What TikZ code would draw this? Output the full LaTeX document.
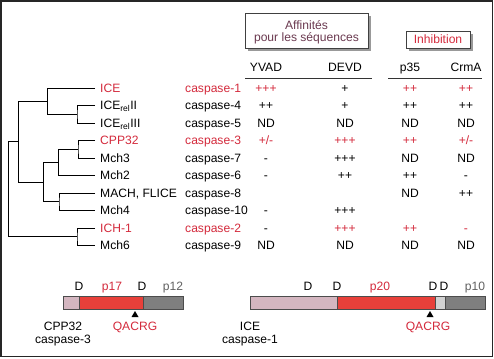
\documentclass[tikz,border=0pt]{standalone}
\usepackage{fontspec}
\setmainfont{Liberation Sans}
\definecolor{myred}{HTML}{D42A3C}
\definecolor{mypurple}{HTML}{6B3A50}
\definecolor{barpink}{HTML}{D4B6C0}
\definecolor{barred}{HTML}{E8403A}
\definecolor{bargray}{HTML}{7F7F7F}
\definecolor{barlight}{HTML}{D2D2D2}
\begin{document}
\begin{tikzpicture}[x=1pt,y=-1pt,
  txt/.style={inner sep=0pt, text height=8.7pt, text depth=0pt, font=\fontsize{12.1}{14}\selectfont},
  lft/.style={txt, anchor=west},
  rd/.style={text=myred},
  tree/.style={line width=0.9pt, black},
  hbox/.style={draw=black!75, line width=0.8pt, fill=white},
  shadow/.style={fill=black!40, draw=none},
  bar/.style={draw=black!70, line width=0.6pt},
  tri/.style={fill=black, draw=none}]
\useasboundingbox (0,0) rectangle (494,358);
\fill[white] (0,0) rectangle (494,358);
\draw[line width=1.6pt, black!85] (1,1) rectangle (492.5,356.5);

% header boxes
\fill[shadow] (248,16) rectangle (371,51);
\node[hbox, minimum width=123pt, minimum height=35pt, anchor=north west, inner sep=0pt] (aff) at (245,13) {};
\node[txt, text=mypurple] (afft1) at (306.5,25) {Affinités};
\node[txt, text=mypurple] (afft2) at (306.5,37.5) {pour les séquences};
\fill[shadow] (409,34) rectangle (473,51);
\node[hbox, minimum width=64pt, minimum height=17pt, anchor=north west, inner sep=0pt] (inh) at (406,31) {};
\node[txt, text=myred] (inht) at (438,39.5) {Inhibition};

% column headers
\node[txt] (hY) at (266,67) {YVAD};
\node[txt] (hD) at (345,67) {DEVD};
\node[txt] (hP) at (410,67) {p35};
\node[txt] (hC) at (466,67) {CrmA};
\draw[line width=0.9pt, black!80] (245,78) coordinate (l1a) -- (372,78) coordinate (l1b);
\draw[line width=0.9pt, black!80] (388,78) coordinate (l2a) -- (482,78) coordinate (l2b);

% names
\node[lft, rd] (n1) at (100,88) {ICE};
\node[lft] (n2) at (100,105.5) {ICE\textsubscript{rel}II};
\node[lft] (n3) at (100,123) {ICE\textsubscript{rel}III};
\node[lft, rd] (n4) at (100,140.5) {CPP32};
\node[lft] (n5) at (100,158) {Mch3};
\node[lft] (n6) at (100,175.5) {Mch2};
\node[lft] (n7) at (100,193) {MACH, FLICE};
\node[lft] (n8) at (100,210.5) {Mch4};
\node[lft, rd] (n9) at (100,228) {ICH-1};
\node[lft] (n10) at (100,245.5) {Mch6};

% caspases
\node[lft, rd] (c1) at (185,88) {caspase-1};
\node[lft] (c2) at (185,105.5) {caspase-4};
\node[lft] (c3) at (185,123) {caspase-5};
\node[lft, rd] (c4) at (185,140.5) {caspase-3};
\node[lft] (c5) at (185,158) {caspase-7};
\node[lft] (c6) at (185,175.5) {caspase-6};
\node[lft] (c7) at (185,193) {caspase-8};
\node[lft] (c8) at (185,210.5) {caspase-10};
\node[lft, rd] (c9) at (185,228) {caspase-2};
\node[lft] (c10) at (185,245.5) {caspase-9};

% values
\node[txt, rd] (v1a) at (266,88) {+++};
\node[txt] (v1b) at (345,88) {+};
\node[txt, rd] (v1c) at (410,88) {++};
\node[txt, rd] (v1d) at (466,88) {++};
\node[txt] (v2a) at (266,105.5) {++};
\node[txt] (v2b) at (345,105.5) {+};
\node[txt] (v2c) at (410,105.5) {++};
\node[txt] (v2d) at (466,105.5) {++};
\node[txt] (v3a) at (266,123) {ND};
\node[txt] (v3b) at (345,123) {ND};
\node[txt] (v3c) at (410,123) {ND};
\node[txt] (v3d) at (466,123) {ND};
\node[txt, rd] (v4a) at (266,140.5) {+/-};
\node[txt, rd] (v4b) at (345,140.5) {+++};
\node[txt, rd] (v4c) at (410,140.5) {++};
\node[txt, rd] (v4d) at (466,140.5) {+/-};
\node[txt] (v5a) at (266,158) {-};
\node[txt] (v5b) at (345,158) {+++};
\node[txt] (v5c) at (410,158) {ND};
\node[txt] (v5d) at (466,158) {ND};
\node[txt] (v6a) at (266,175.5) {-};
\node[txt] (v6b) at (345,175.5) {++};
\node[txt] (v6c) at (410,175.5) {++};
\node[txt] (v6d) at (466,175.5) {-};
\node[txt] (v7c) at (410,193) {ND};
\node[txt] (v7d) at (466,193) {++};
\node[txt] (v8a) at (266,210.5) {-};
\node[txt] (v8b) at (345,210.5) {+++};
\node[txt] (v9a) at (266,228) {-};
\node[txt, rd] (v9b) at (345,228) {+++};
\node[txt, rd] (v9c) at (410,228) {++};
\node[txt, rd] (v9d) at (466,228) {-};
\node[txt] (v10a) at (266,245.5) {ND};
\node[txt] (v10b) at (345,245.5) {ND};
\node[txt] (v10c) at (410,245.5) {ND};
\node[txt] (v10d) at (466,245.5) {ND};

% dendrogram
\draw[tree] ([xshift=-5pt]n1.west) -- (47,88) -- (47,114.25);
\draw[tree] ([xshift=-5pt]n2.west) -| (77,114.25) |- ([xshift=-5pt]n3.west);
\draw[tree] (47,114.25) -- (77,114.25);
\draw[tree] (18,101.1) -- (47,101.1);
\draw[tree] ([xshift=-5pt]n4.west) -| (78,149.25) |- ([xshift=-5pt]n5.west);
\draw[tree] (58,149.25) -- (78,149.25);
\draw[tree] (58,149.25) |- ([xshift=-5pt]n6.west);
\draw[tree] (43,162.4) -- (58,162.4);
\draw[tree] ([xshift=-5pt]n7.west) -| (59,201.75) |- ([xshift=-5pt]n8.west);
\draw[tree] (43,201.75) -- (59,201.75);
\draw[tree] (43,162.4) -- (43,201.75);
\draw[tree] (18,182.1) -- (43,182.1);
\draw[tree] (18,101.1) -- (18,182.1);
\draw[tree] (8,141.6) -- (18,141.6);
\draw[tree] ([xshift=-5pt]n9.west) -| (77,236.75) |- ([xshift=-5pt]n10.west);
\draw[tree] (8,236.75) -- (77,236.75);
\draw[tree] (8,141.6) -- (8,236.75);

% CPP32 bar
\filldraw[bar, fill=barpink] (63,296) rectangle (79,309);
\filldraw[bar, fill=barred] (79,296) rectangle (143,309);
\filldraw[bar, fill=bargray] (143,296) rectangle (183,309);
\node[txt] (d1) at (79,286) {D};
\node[txt, rd] (p17) at (112,286) {p17};
\node[txt] (d2) at (142,286) {D};
\node[txt, text=black!62] (p12) at (173,286) {p12};
\fill[tri] (135,311) -- (138.5,317) -- (131.5,317) -- cycle;
\node[txt, rd] (q1) at (135,326) {QACRG};
\node[txt] (cpp) at (63,326) {CPP32};
\node[txt] (cas3) at (63,339) {caspase-3};

% ICE bar
\filldraw[bar, fill=barpink] (250,296) rectangle (337,309);
\filldraw[bar, fill=barred] (337,296) rectangle (435,309);
\filldraw[bar, fill=barlight] (435,296) rectangle (445,309);
\filldraw[bar, fill=bargray] (445,296) rectangle (485,309);
\node[txt] (d3) at (308,286) {D};
\node[txt] (d4) at (337,286) {D};
\node[txt, rd] (p20) at (380,286) {p20};
\node[txt] (d5) at (433,286) {D};
\node[txt] (d6) at (444,286) {D};
\node[txt, text=black!62] (p10) at (475,286) {p10};
\fill[tri] (430,311) -- (433.5,317) -- (426.5,317) -- cycle;
\node[txt, rd] (q2) at (428,326) {QACRG};
\node[txt] (ice) at (250,326) {ICE};
\node[txt] (cas1) at (250,339) {caspase-1};
\end{tikzpicture}
\end{document}
